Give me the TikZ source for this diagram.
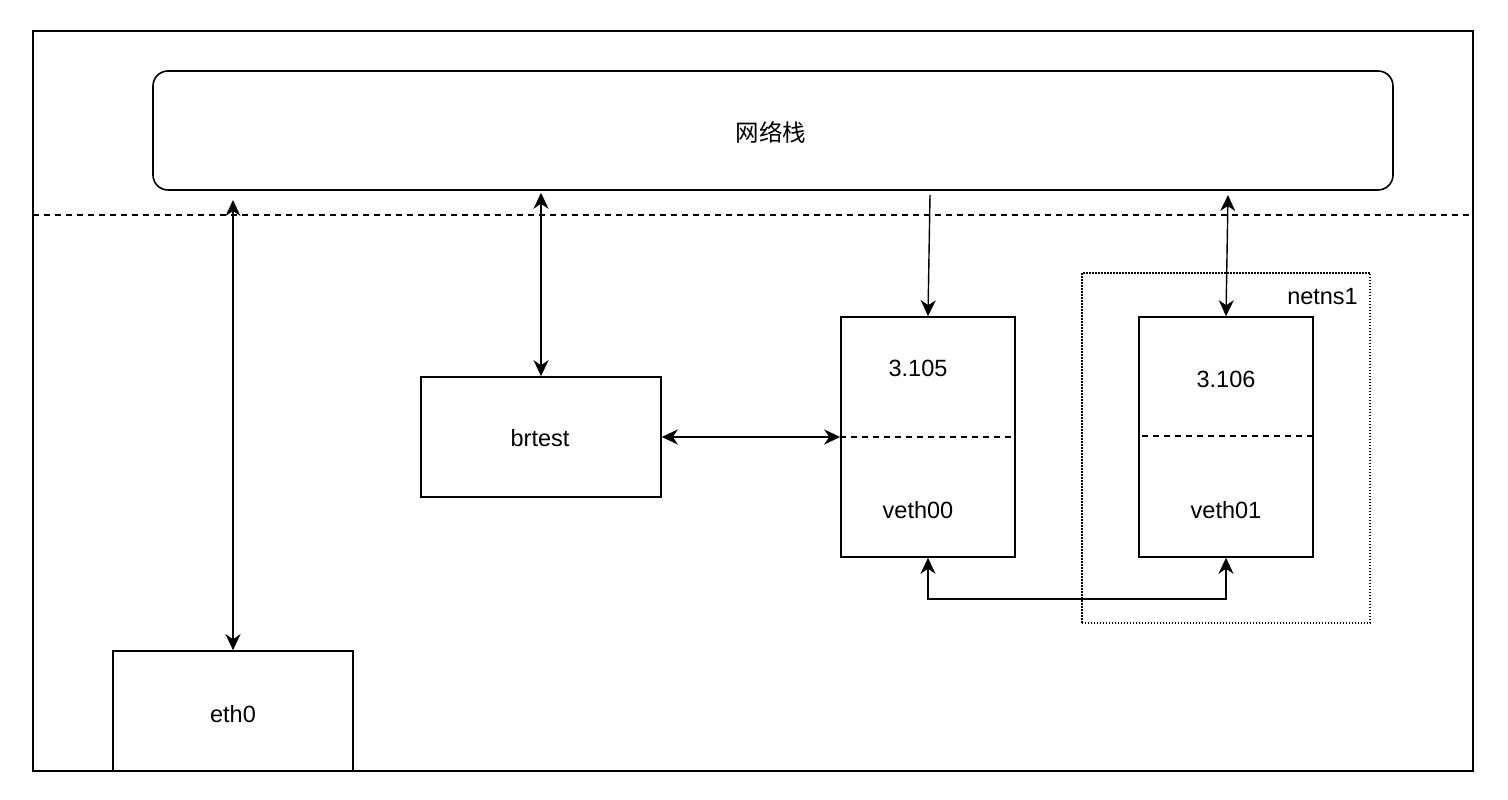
\documentclass[tikz,border=0pt]{standalone}
\usepackage{fontspec}
\setmainfont{Liberation Sans}
\newfontfamily\cjk{Noto Sans CJK SC}
\usetikzlibrary{calc}
\usetikzlibrary{arrows.meta}

\tikzset{
  box/.style={draw, line width=1.6pt, minimum width=240pt, minimum height=120pt, inner sep=0pt},
  portbox/.style={draw, line width=1.6pt, minimum width=174pt, minimum height=240pt, inner sep=0pt},
  link/.style={line width=1.4pt},
  both/.style={link, {Stealth[length=16pt,width=15pt,inset=5pt]}-{Stealth[length=16pt,width=15pt,inset=5pt]}},
  tohead/.style={link, -{Stealth[length=16pt,width=15pt,inset=5pt]}},
  sep/.style={line width=1.3pt, dash pattern=on 6pt off 5pt},
  lbl/.style={font=\fontsize{23.5pt}{27pt}\selectfont, inner sep=0pt}
}

\begin{document}
\begin{tikzpicture}[x=1pt, y=1pt]
\useasboundingbox (0,0) rectangle (1508,800);
\draw[line width=1.6pt] (33,29) rectangle (1473,769);
\node[box, rounded corners=15pt, minimum width=1240pt, minimum height=119pt] (stack) at (773,669.5) {};
\node[lbl] at (771,668) {\cjk 网络栈};
\draw[sep] (33,585) -- (1473,585);

\node[box] (eth0) at (233,89) {};
\node[lbl] at (233,86) {eth0};
\node[box] (brtest) at (541,363) {};
\node[lbl] at (540,362) {brtest};

\node[portbox] (veth00) at (928,363) {};
\node[lbl] at (918,432) {3.105};
\node[lbl] at (918,290) {veth00};
\draw[sep] (veth00.west) -- (veth00.east);

% netns1
\draw[line width=1.4pt, dash pattern=on 1.5pt off 1.5pt] (1082,177) rectangle (1370,527);
\node[lbl, anchor=east] (ns) at (1358,503) {netns1};
\node[portbox] (veth01) at (1226,363) {};
\node[lbl] at (1226,421) {3.106};
\node[lbl] at (1226,290) {veth01};
\draw[sep] ($(veth01.west)+(4,1)$) -- ($(veth01.east)+(4,1)$);

\coordinate (A) at (233,600);
\coordinate (B) at (930,605);
\coordinate (C) at (1228,605);
\draw[both] (A) -- (eth0.north);
\draw[both] (brtest.north |- stack.south) ++(0,-2) -- (brtest.north);
\draw[tohead] (B) -- (veth00.north);
\draw[both] (C) -- (veth01.north);
\draw[both, line width=1.8pt] (brtest.east) -- (veth00.west);
\draw[both, line width=1.6pt] (veth00.south) -- ++(0,-41) -| (veth01.south);
\end{tikzpicture}
\end{document}
